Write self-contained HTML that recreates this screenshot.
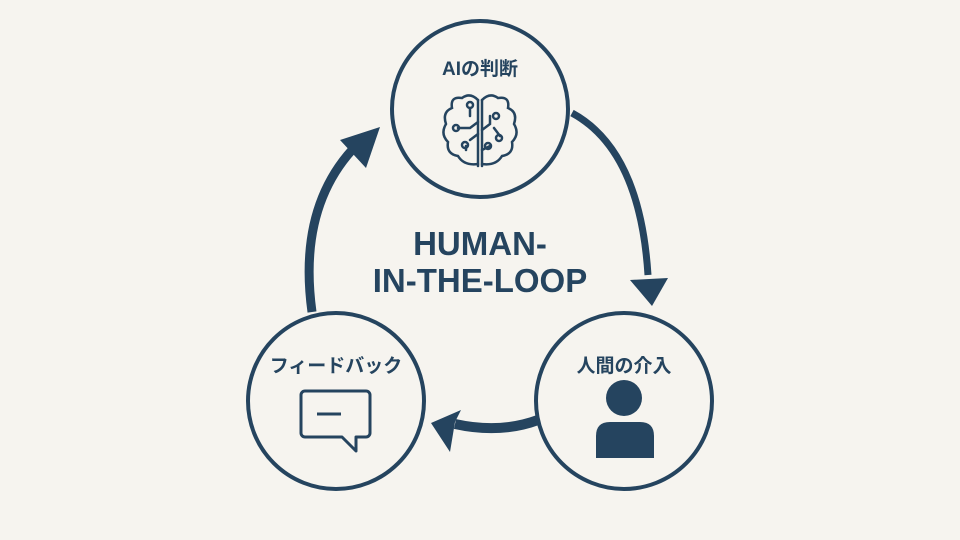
<!DOCTYPE html>
<html><head><meta charset="utf-8"><style>
html,body{margin:0;padding:0;background:#f6f4ef;}
svg{display:block}
text{font-family:"Liberation Sans","Noto Sans CJK JP",sans-serif;fill:#25445f;font-weight:bold}
</style></head><body>
<svg width="960" height="540" viewBox="0 0 960 540">
<rect width="960" height="540" fill="#f6f4ef"/>
<g fill="none" stroke="#25445f" stroke-width="4">
<circle cx="480" cy="109" r="88"/>
<circle cx="336" cy="401" r="88"/>
<circle cx="624" cy="401" r="88"/>
</g>
<g fill="none" stroke="#25445f" stroke-linecap="butt">
<path d="M572 113 Q640 150 648 275" stroke-width="7"/>
<path d="M538 420 Q500 434 455 424" stroke-width="10"/>
<path d="M312 312 Q298 210 352 150" stroke-width="9"/>
</g>
<g fill="#25445f">
<polygon points="630,280 668,278 652,306"/>
<polygon points="431,423 461,410 455,422 450,452"/>
<polygon points="380,127 340,140 366,168"/>
</g>
<text x="480" y="75" font-size="19" text-anchor="middle">AIの判断</text>
<text x="336" y="372" font-size="19" text-anchor="middle">フィードバック</text>
<text x="624" y="372" font-size="19" text-anchor="middle">人間の介入</text>
<text x="480" y="255" font-size="33" text-anchor="middle">HUMAN-</text>
<text x="480" y="292" font-size="33" text-anchor="middle">IN-THE-LOOP</text>
<g fill="none" stroke="#25445f" stroke-width="2.5" stroke-linecap="round">
<path d="M478 100 L478 166 M482 100 L482 166"/>
<path d="M478 100 Q470 92 462 98 Q450 96 452 108 Q442 112 446 124 Q440 134 448 142 Q446 154 458 156 Q464 166 478 164"/>
<path d="M482 100 Q490 92 498 98 Q510 96 508 108 Q518 112 514 124 Q520 134 512 142 Q514 154 502 156 Q496 166 482 164"/>
<path d="M470 108 L470 116 M458 128 L470 128 L478 122 M470 140 L478 134 M466 146 L466 150"/>
<path d="M490 116 L490 124 L482 130 M494 128 L500 136 M490 146 L482 150"/>
<circle cx="470" cy="105" r="3"/><circle cx="456" cy="128" r="3"/><circle cx="465" cy="145" r="3"/>
<circle cx="496" cy="116" r="3"/><circle cx="499" cy="138" r="3"/><circle cx="488" cy="146" r="3"/>
</g>
<g fill="none" stroke="#25445f" stroke-width="3" stroke-linejoin="round">
<path d="M305 391 h61 a4 4 0 0 1 4 4 v38 a4 4 0 0 1 -4 4 h-10 v14 l-14 -14 h-37 a4 4 0 0 1 -4 -4 v-38 a4 4 0 0 1 4 -4 z"/>
<path d="M317 414 h24"/>
</g>
<g fill="#25445f">
<circle cx="624" cy="398" r="18"/>
<path d="M596 458 v-22 q0 -14 14 -14 h30 q14 0 14 14 v22 z"/>
</g>
</svg>
</body></html>
